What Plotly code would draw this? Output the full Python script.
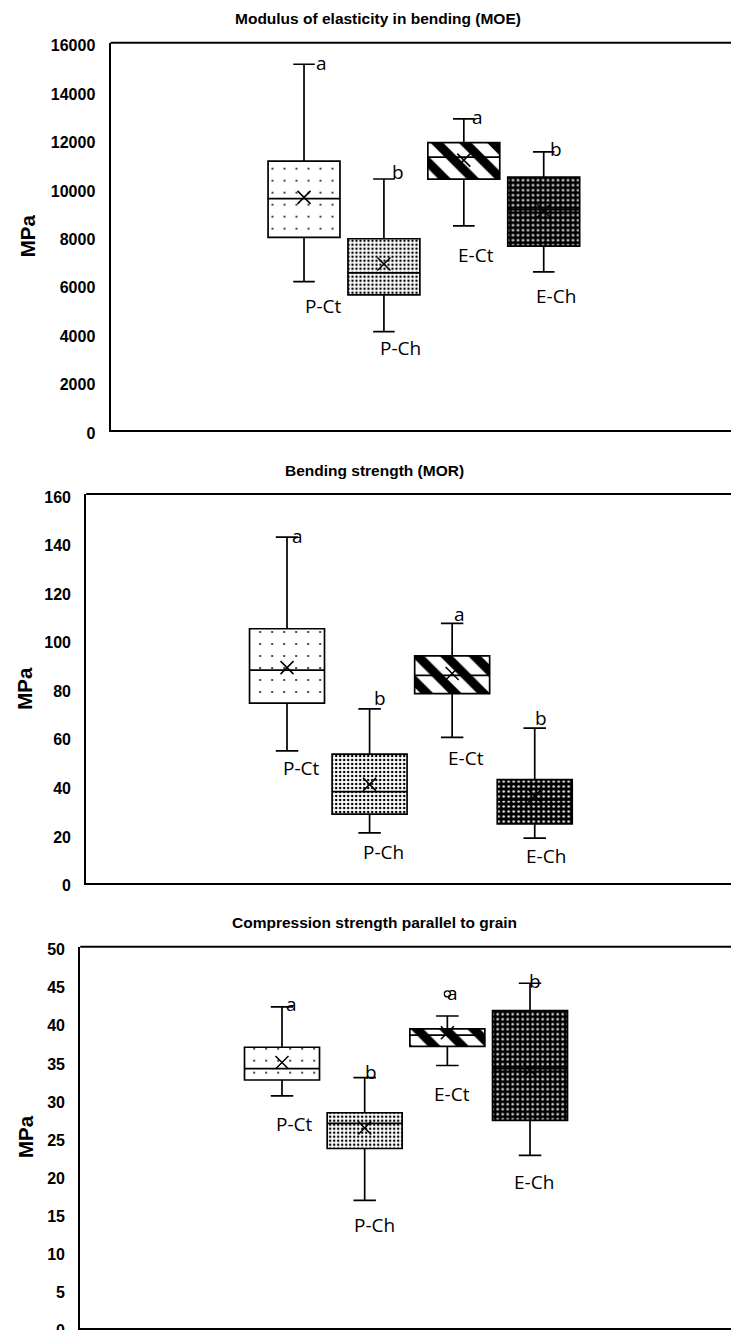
import plotly.graph_objects as go

# ---------------- data ----------------
groups = ["P-Ct", "P-Ch", "E-Ct", "E-Ch"]
letters = ["a", "b", "a", "b"]

moe_lower = [6130, 4060, 8430, 6530]
moe_q1 = [7960, 5580, 10360, 7600]
moe_median = [9560, 6490, 11270, 9100]
moe_q3 = [11110, 7900, 11870, 10450]
moe_upper = [15110, 10370, 12850, 11490]
moe_mean = [9610, 6860, 11150, 9060]
moe_ticks = [0, 2000, 4000, 6000, 8000, 10000, 12000, 14000, 16000]

mor_lower = [54.2, 20.4, 59.8, 18.3]
mor_q1 = [73.9, 28.2, 77.8, 24.1]
mor_median = [87.5, 37.4, 85.3, 34.0]
mor_q3 = [104.5, 52.9, 93.3, 42.4]
mor_upper = [142.2, 71.5, 106.7, 63.6]
mor_mean = [88.5, 40.4, 86.1, 35.6]
mor_ticks = [0, 20, 40, 60, 80, 100, 120, 140, 160]

comp_lower = [30.4, 16.7, 34.4, 22.6]
comp_q1 = [32.5, 23.5, 36.9, 27.2]
comp_median = [34.0, 26.8, 38.4, 34.0]
comp_q3 = [36.8, 28.2, 39.2, 41.6]
comp_upper = [42.1, 32.8, 40.9, 45.2]
comp_mean = [34.8, 26.2, 38.7, 33.8]
comp_outlier_group = ["E-Ct"]
comp_outlier_value = [43.8]
comp_ticks = [0, 5, 10, 15, 20, 25, 30, 35, 40, 45, 50]

titles = ["Modulus of elasticity in bending (MOE)",
          "Bending strength (MOR)",
          "Compression strength parallel to grain"]
y_title = "MPa"

# ---------------- styles / layout geometry ----------------
W, H = 731, 1330
pattern_shape = [".", ".", "\\", "."]
pattern_size = [12, 4, 20, 5]
pattern_solid = [0.02, 0.3, 0.45, 0.2]
pattern_fg = ["black", "black", "black", "#e6e6e6"]
pattern_bg = ["white", "white", "white", "black"]

panels = [
    dict(data=(moe_lower, moe_q1, moe_median, moe_q3, moe_upper, moe_mean), ticks=moe_ticks,
         left=110.5, top=42.7, bottom=430.0, xr=[-2.422, 5.344], bw=0.90,
         title_xy=(378, 18.3), ytitle_x=27,
         let_dx=[17.7, 14, 14, 12], let_up=[1, 7, 2, 3],
         lab_dx=[19, 16.5, 12, 12], lab_down=[24, 16, 29, 24]),
    dict(data=(mor_lower, mor_q1, mor_median, mor_q3, mor_upper, mor_mean), ticks=mor_ticks,
         left=86.2, top=494.0, bottom=882.5, xr=[-2.432, 5.377], bw=0.908,
         title_xy=(374, 470.7), ytitle_x=24.5,
         let_dx=[10, 10, 7, 6], let_up=[1, 11, 9, 10],
         lab_dx=[14, 14, 14, 11], lab_down=[17, 19, 21, 18]),
    dict(data=(comp_lower, comp_q1, comp_median, comp_q3, comp_upper, comp_mean), ticks=comp_ticks,
         left=80.2, top=946.7, bottom=1327.5, xr=[-2.441, 5.431], bw=0.907,
         title_xy=(374, 922.7), ytitle_x=25,
         let_dx=[9, 6, 5, 5], let_up=[3, 6, 23, 2],
         lab_dx=[12.6, 10, 5, 4], lab_down=[28, 25, 28.6, 27]),
]

bold_font = dict(family="Liberation Sans, Arial, sans-serif", color="black", weight="bold")
text_font = dict(family="Open Sans, sans-serif", size=19, color="black")

fig = go.Figure()
annotations = []
shapes = []
layout = {}
xs = list(range(len(groups)))

for k, p in enumerate(panels):
    sfx = "" if k == 0 else str(k + 1)
    xa, ya = "x" + sfx, "y" + sfx
    lower, q1, med, q3, upper, mean = p["data"]

    # patterned box fills, one trace per group
    for i in xs:
        fig.add_trace(go.Bar(
            x=[i], y=[q3[i] - q1[i]], base=[q1[i]], width=p["bw"],
            marker=dict(color=pattern_bg[i], line=dict(width=0),
                        pattern=dict(shape=pattern_shape[i], size=pattern_size[i],
                                     solidity=pattern_solid[i], fgcolor=pattern_fg[i],
                                     bgcolor=pattern_bg[i], fgopacity=1, fillmode="replace")),
            xaxis=xa, yaxis=ya, showlegend=False, hoverinfo="skip", name=groups[i]))

    fig.add_trace(go.Box(
        x=xs, q1=q1, median=med, q3=q3, lowerfence=lower, upperfence=upper,
        width=p["bw"], whiskerwidth=0.3, fillcolor="rgba(0,0,0,0)",
        line=dict(color="black", width=1.7), boxpoints=False,
        xaxis=xa, yaxis=ya, showlegend=False, name=titles[k]))

    fig.add_trace(go.Scatter(
        x=xs, y=mean, mode="markers",
        marker=dict(symbol="x-thin", size=13, color="black", line=dict(width=1.5, color="black")),
        xaxis=xa, yaxis=ya, showlegend=False, hoverinfo="skip"))

    if k == 2:
        fig.add_trace(go.Scatter(
            x=[groups.index(g) for g in comp_outlier_group], y=comp_outlier_value, mode="markers",
            marker=dict(symbol="circle-open", size=6, color="black", line=dict(width=1.3)),
            xaxis=xa, yaxis=ya, showlegend=False, hoverinfo="skip"))

    y0 = 1 - p["bottom"] / H
    y1 = 1 - p["top"] / H
    layout["xaxis" + sfx] = dict(domain=[p["left"] / W, 1], range=p["xr"], anchor=ya,
                                 showline=True, linecolor="black", linewidth=2, mirror=False,
                                 showticklabels=False, showgrid=False, zeroline=False, ticks="",
                                 automargin=False, fixedrange=True)
    layout["yaxis" + sfx] = dict(domain=[y0, y1], range=[p["ticks"][0], p["ticks"][-1]], anchor=xa,
                                 tickvals=p["ticks"], tickformat="d", mirror=False,
                                 showline=True, linecolor="black", linewidth=2,
                                 showgrid=False, zeroline=False, ticks="",
                                 tickfont=dict(**bold_font, size=16), ticklabelstandoff=10,
                                 ticklabelshift=3, ticklabeloverflow="allow",
                                 automargin=False, fixedrange=True)
    # top frame line of the plot area (open on the right like the original)
    shapes.append(dict(type="line", xref=xa + " domain", yref=ya + " domain",
                       x0=0, x1=1, y0=1, y1=1, line=dict(color="black", width=2)))

    annotations.append(dict(text=titles[k], xref="paper", yref="paper",
                            x=p["title_xy"][0] / W, y=1 - p["title_xy"][1] / H,
                            showarrow=False, xanchor="center", yanchor="middle",
                            font=dict(**bold_font, size=15.5)))
    annotations.append(dict(text=y_title, xref="paper", yref="paper",
                            x=p["ytitle_x"] / W, y=(y0 + y1) / 2, textangle=-90,
                            showarrow=False, xanchor="center", yanchor="middle",
                            font=dict(**bold_font, size=20.5)))
    for i, g in enumerate(groups):
        annotations.append(dict(text=letters[i], xref=xa, yref=ya, x=i, y=upper[i],
                                showarrow=False, xanchor="center", yanchor="middle",
                                xshift=p["let_dx"][i], yshift=p["let_up"][i], font=text_font))
        annotations.append(dict(text=g, xref=xa, yref=ya, x=i, y=lower[i],
                                showarrow=False, xanchor="center", yanchor="middle",
                                xshift=p["lab_dx"][i], yshift=-p["lab_down"][i], font=text_font))

fig.update_layout(template="none", width=W, height=H, margin=dict(l=0, r=0, t=0, b=0, pad=0),
                  autosize=False, paper_bgcolor="white", plot_bgcolor="white",
                  showlegend=False, annotations=annotations, shapes=shapes,
                  hovermode=False, **layout)

fig.write_html("out.html",
               config={"displayModeBar": False, "staticPlot": True},
               post_script="document.body.style.margin='0';document.body.style.overflow='hidden';")
